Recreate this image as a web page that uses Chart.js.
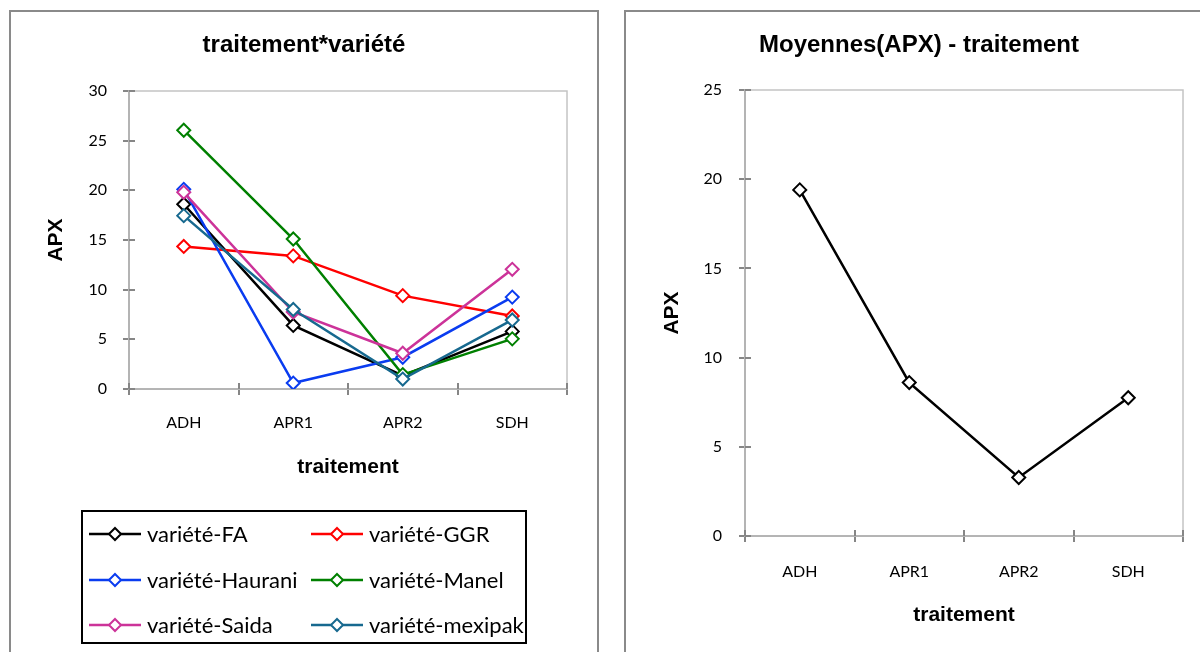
<!DOCTYPE html>
<html><head><meta charset="utf-8">
<script src="https://cdn.jsdelivr.net/npm/chart.js@4.4.1/dist/chart.umd.min.js"></script>
<style>
html,body{margin:0;padding:0;background:#fff;width:1200px;height:652px;overflow:hidden;position:relative}
.panel{position:absolute;border:2px solid #8a8a8a;box-sizing:border-box;background:#fff}
#p1{left:9px;top:10px;width:590px;height:700px}
#p2{left:624px;top:10px;width:620px;height:700px}
.wrap{position:absolute;top:0;width:600px;height:652px}
#w1{left:0}
#w2{left:600px}
</style></head>
<body>
<div class="panel" id="p1"></div><div class="panel" id="p2"></div>
<div class="wrap" id="w1"><canvas id="c1" width="600" height="652"></canvas></div>
<div class="wrap" id="w2"><canvas id="c2" width="600" height="652"></canvas></div>
<script>
// ---- data ----
const categories = ['ADH', 'APR1', 'APR2', 'SDH'];
const varieties = ['variété-FA', 'variété-GGR', 'variété-Haurani', 'variété-Manel', 'variété-Saida', 'variété-mexipak'];
const faValues = [18.6, 6.4, 1.35, 5.8];
const ggrValues = [14.35, 13.4, 9.4, 7.35];
const hauraniValues = [20.1, 0.6, 3.2, 9.25];
const manelValues = [26.05, 15.1, 1.45, 5.05];
const saidaValues = [19.8, 7.75, 3.6, 12.05];
const mexipakValues = [17.45, 8.0, 1.0, 6.95];
const meanValues = [19.4, 8.6, 3.28, 7.75];
const leftYTicks = [0, 5, 10, 15, 20, 25, 30];
const rightYTicks = [0, 5, 10, 15, 20, 25];
const leftTitle = 'traitement*variété';
const rightTitle = 'Moyennes(APX) - traitement';
const xTitle = 'traitement';
const yTitle = 'APX';

// ---- styles ----
const seriesColors = ['#000000', '#ff0000', '#0a3cf0', '#008000', '#cc3399', '#17698f'];
const seriesValues = [faValues, ggrValues, hauraniValues, manelValues, saidaValues, mexipakValues];
const TICK_FONT = {family: 'Lato, "Open Sans", sans-serif', size: 16};
const TITLE_FONT = {family: '"Liberation Sans", Arial, sans-serif', size: 24, weight: 'bold'};
const AXIS_TITLE_FONT = {family: '"Liberation Sans", Arial, sans-serif', size: 21, weight: 'bold'};
const AXIS_GRAY = '#868686';

const framePlugin = {
  id: 'frame',
  beforeDatasetsDraw(chart) {
    const {ctx, chartArea: a} = chart;
    ctx.save();
    ctx.strokeStyle = '#c4c4c4';
    ctx.lineWidth = 1.5;
    ctx.strokeRect(a.left, a.top, a.right - a.left, a.bottom - a.top);
    // inward halves of the crossing tick marks
    ctx.strokeStyle = AXIS_GRAY;
    ctx.lineWidth = 2;
    const ys = chart.scales.y;
    ys.ticks.forEach(t => {
      const y = Math.round(ys.getPixelForValue(t.value));
      ctx.beginPath(); ctx.moveTo(a.left, y); ctx.lineTo(a.left + 6, y); ctx.stroke();
    });
    const n = chart.data.labels.length;
    const step = (a.right - a.left) / n;
    for (let k = 0; k <= n; k++) {
      const x = Math.round(a.left + k * step);
      ctx.beginPath(); ctx.moveTo(x, a.bottom); ctx.lineTo(x, a.bottom - 6); ctx.stroke();
    }
    ctx.restore();
  }
};

const legendPlugin = {
  id: 'boxLegend',
  afterDraw(chart) {
    const ctx = chart.ctx;
    ctx.save();
    ctx.strokeStyle = '#000';
    ctx.lineWidth = 2;
    ctx.strokeRect(82, 511, 444, 132);
    const cols = [89, 311];
    const rows = [534, 580, 625];
    chart.data.datasets.forEach((ds, i) => {
      const x = cols[i % 2], y = rows[Math.floor(i / 2)];
      ctx.strokeStyle = ds.borderColor;
      ctx.lineWidth = 2.5;
      ctx.beginPath(); ctx.moveTo(x, y); ctx.lineTo(x + 52, y); ctx.stroke();
      const cx = x + 26, r = 6;
      ctx.beginPath();
      ctx.moveTo(cx, y - r); ctx.lineTo(cx + r, y); ctx.lineTo(cx, y + r); ctx.lineTo(cx - r, y); ctx.closePath();
      ctx.fillStyle = '#fff'; ctx.fill();
      ctx.lineWidth = 2; ctx.stroke();
      ctx.fillStyle = '#000';
      ctx.font = '22px Lato, "Open Sans", sans-serif';
      ctx.textBaseline = 'middle';
      ctx.textAlign = 'left';
      ctx.fillText(ds.label, x + 58, y + 1);
    });
    ctx.restore();
  }
};

function makeOptions(cfg) {
  return {
    responsive: false,
    animation: false,
    events: [],
    layout: {padding: cfg.padding},
    plugins: {
      legend: {display: false},
      tooltip: {enabled: false},
      title: {
        display: true, text: cfg.title, color: '#000', font: TITLE_FONT,
        padding: {top: cfg.titlePadTop, bottom: cfg.titlePadBottom}
      }
    },
    scales: {
      x: {
        type: 'category',
        offset: true,
        afterFit(s) { s.height = 100; },
        grid: {display: true, offset: true, drawOnChartArea: false, drawTicks: true, tickLength: 6, color: AXIS_GRAY, lineWidth: 2},
        border: {display: true, color: AXIS_GRAY, width: 2},
        ticks: {color: '#000', font: TICK_FONT, padding: cfg.xTickPad, maxRotation: 0, autoSkip: false},
        title: {display: true, text: xTitle, color: '#000', font: AXIS_TITLE_FONT, padding: {top: 0, bottom: cfg.xTitlePad}}
      },
      y: {
        min: cfg.yTicks[0],
        max: cfg.yTicks[cfg.yTicks.length - 1],
        afterFit(s) { s.width = cfg.yWidth; },
        afterBuildTicks(s) { s.ticks = cfg.yTicks.map(v => ({value: v})); },
        grid: {display: true, drawOnChartArea: false, drawTicks: true, tickLength: 6, color: AXIS_GRAY, lineWidth: 2},
        border: {display: true, color: AXIS_GRAY, width: 2},
        ticks: {color: '#000', font: TICK_FONT, padding: cfg.yTickPad},
        title: {display: true, text: yTitle, color: '#000', font: AXIS_TITLE_FONT, padding: {top: cfg.yTitlePad, bottom: 0}}
      }
    }
  };
}

const leftDatasets = varieties.map((name, i) => ({
  label: name,
  data: seriesValues[i],
  borderColor: seriesColors[i],
  backgroundColor: '#ffffff',
  borderWidth: 2.5,
  pointStyle: 'rectRot',
  pointRadius: 6.5,
  pointBorderWidth: 2,
  pointBackgroundColor: '#ffffff',
  pointBorderColor: seriesColors[i],
  tension: 0,
  order: varieties.length - i
}));

new Chart(document.getElementById('c1'), {
  type: 'line',
  data: {labels: categories, datasets: leftDatasets},
  options: makeOptions({
    title: leftTitle, padding: {left: 41, right: 33, top: 0, bottom: 163},
    titlePadTop: 30.6, titlePadBottom: 31.6,
    yWidth: 88, yTicks: leftYTicks, yTickPad: 16, yTitlePad: 2.4,
    xTickPad: 18.4, xTitlePad: 9.4
  }),
  plugins: [framePlugin, legendPlugin]
});

new Chart(document.getElementById('c2'), {
  type: 'line',
  data: {labels: categories, datasets: [{
    label: 'Moyennes(APX)',
    data: meanValues,
    borderColor: '#000000',
    backgroundColor: '#ffffff',
    borderWidth: 2.5,
    pointStyle: 'rectRot',
    pointRadius: 6.5,
    pointBorderWidth: 2,
    pointBackgroundColor: '#ffffff',
    pointBorderColor: '#000000',
    tension: 0
  }]},
  options: makeOptions({
    title: rightTitle, padding: {left: 55, right: 17, top: 0, bottom: 16},
    titlePadTop: 30.6, titlePadBottom: 30.6,
    yWidth: 90, yTicks: rightYTicks, yTickPad: 17, yTitlePad: 4.4,
    xTickPad: 20.4, xTitlePad: 8.4
  }),
  plugins: [framePlugin]
});
</script>
</body></html>
